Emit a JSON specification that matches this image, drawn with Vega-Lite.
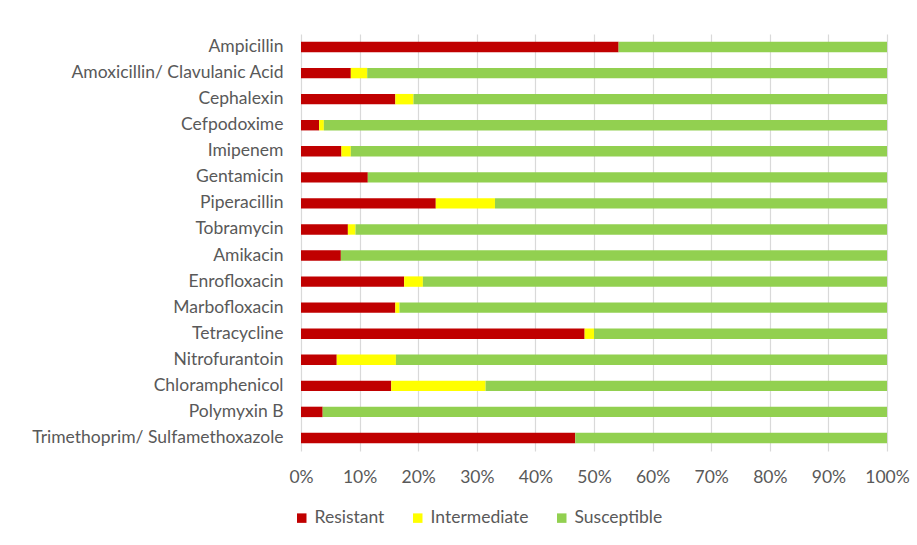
{
  "$schema": "https://vega.github.io/schema/vega-lite/v6.json",
  "width": 586,
  "height": 417,
  "autosize": "none",
  "padding": {"left": 301, "top": 34, "right": 30, "bottom": 94},
  "background": "white",
  "data": {
    "values": [
      {"drug": "Ampicillin", "category": "Resistant", "value": 54.2},
      {"drug": "Ampicillin", "category": "Intermediate", "value": 0},
      {"drug": "Ampicillin", "category": "Susceptible", "value": 45.8},
      {"drug": "Amoxicillin/ Clavulanic Acid", "category": "Resistant", "value": 8.5},
      {"drug": "Amoxicillin/ Clavulanic Acid", "category": "Intermediate", "value": 2.8},
      {"drug": "Amoxicillin/ Clavulanic Acid", "category": "Susceptible", "value": 88.7},
      {"drug": "Cephalexin", "category": "Resistant", "value": 16.1},
      {"drug": "Cephalexin", "category": "Intermediate", "value": 3.1},
      {"drug": "Cephalexin", "category": "Susceptible", "value": 80.8},
      {"drug": "Cefpodoxime", "category": "Resistant", "value": 3.1},
      {"drug": "Cefpodoxime", "category": "Intermediate", "value": 0.8},
      {"drug": "Cefpodoxime", "category": "Susceptible", "value": 96.1},
      {"drug": "Imipenem", "category": "Resistant", "value": 6.9},
      {"drug": "Imipenem", "category": "Intermediate", "value": 1.6},
      {"drug": "Imipenem", "category": "Susceptible", "value": 91.5},
      {"drug": "Gentamicin", "category": "Resistant", "value": 11.4},
      {"drug": "Gentamicin", "category": "Intermediate", "value": 0},
      {"drug": "Gentamicin", "category": "Susceptible", "value": 88.6},
      {"drug": "Piperacillin", "category": "Resistant", "value": 23.0},
      {"drug": "Piperacillin", "category": "Intermediate", "value": 10.1},
      {"drug": "Piperacillin", "category": "Susceptible", "value": 66.9},
      {"drug": "Tobramycin", "category": "Resistant", "value": 8.0},
      {"drug": "Tobramycin", "category": "Intermediate", "value": 1.3},
      {"drug": "Tobramycin", "category": "Susceptible", "value": 90.7},
      {"drug": "Amikacin", "category": "Resistant", "value": 6.8},
      {"drug": "Amikacin", "category": "Intermediate", "value": 0},
      {"drug": "Amikacin", "category": "Susceptible", "value": 93.2},
      {"drug": "Enrofloxacin", "category": "Resistant", "value": 17.6},
      {"drug": "Enrofloxacin", "category": "Intermediate", "value": 3.2},
      {"drug": "Enrofloxacin", "category": "Susceptible", "value": 79.2},
      {"drug": "Marbofloxacin", "category": "Resistant", "value": 16.1},
      {"drug": "Marbofloxacin", "category": "Intermediate", "value": 0.7},
      {"drug": "Marbofloxacin", "category": "Susceptible", "value": 83.2},
      {"drug": "Tetracycline", "category": "Resistant", "value": 48.4},
      {"drug": "Tetracycline", "category": "Intermediate", "value": 1.6},
      {"drug": "Tetracycline", "category": "Susceptible", "value": 50.0},
      {"drug": "Nitrofurantoin", "category": "Resistant", "value": 6.1},
      {"drug": "Nitrofurantoin", "category": "Intermediate", "value": 10.1},
      {"drug": "Nitrofurantoin", "category": "Susceptible", "value": 83.8},
      {"drug": "Chloramphenicol", "category": "Resistant", "value": 15.4},
      {"drug": "Chloramphenicol", "category": "Intermediate", "value": 16.1},
      {"drug": "Chloramphenicol", "category": "Susceptible", "value": 68.5},
      {"drug": "Polymyxin B", "category": "Resistant", "value": 3.7},
      {"drug": "Polymyxin B", "category": "Intermediate", "value": 0},
      {"drug": "Polymyxin B", "category": "Susceptible", "value": 96.3},
      {"drug": "Trimethoprim/ Sulfamethoxazole", "category": "Resistant", "value": 46.8},
      {"drug": "Trimethoprim/ Sulfamethoxazole", "category": "Intermediate", "value": 0},
      {"drug": "Trimethoprim/ Sulfamethoxazole", "category": "Susceptible", "value": 53.2}
    ]
  },
  "mark": {"type": "bar"},
  "encoding": {
    "y": {
      "field": "drug",
      "type": "nominal",
      "sort": null,
      "title": null,
      "scale": {"paddingInner": 0.6, "paddingOuter": 0.3},
      "axis": {
        "domain": false,
        "ticks": false,
        "grid": false,
        "labelFont": "Lato",
        "labelFontSize": 17.5,
        "labelColor": "#595959",
        "labelPadding": 18,
        "labelLimit": 400
      }
    },
    "x": {
      "field": "value",
      "type": "quantitative",
      "stack": "normalize",
      "title": null,
      "scale": {"domain": [0, 1]},
      "axis": {
        "format": ".0%",
        "values": [0, 0.1, 0.2, 0.3, 0.4, 0.5, 0.6, 0.7, 0.8, 0.9, 1],
        "domain": false,
        "ticks": false,
        "grid": true,
        "gridColor": "#d9d9d9",
        "gridWidth": 1.2,
        "labelFont": "Lato",
        "labelFontSize": 17.5,
        "labelColor": "#595959",
        "labelPadding": 17,
        "labelFlush": false
      }
    },
    "color": {
      "field": "category",
      "type": "nominal",
      "scale": {
        "domain": ["Resistant", "Intermediate", "Susceptible"],
        "range": ["#C00000", "#FFFF00", "#92D050"]
      },
      "legend": {
        "title": null,
        "orient": "none",
        "direction": "horizontal",
        "legendX": -8,
        "legendY": 475,
        "symbolType": "square",
        "symbolSize": 90,
        "symbolStrokeWidth": 0,
        "labelFont": "Lato",
        "labelFontSize": 17.5,
        "labelColor": "#595959",
        "labelOffset": 4,
        "columnPadding": 24
      }
    },
    "order": {"field": "ord", "type": "quantitative"}
  },
  "config": {
    "view": {"stroke": null}
  }
}
